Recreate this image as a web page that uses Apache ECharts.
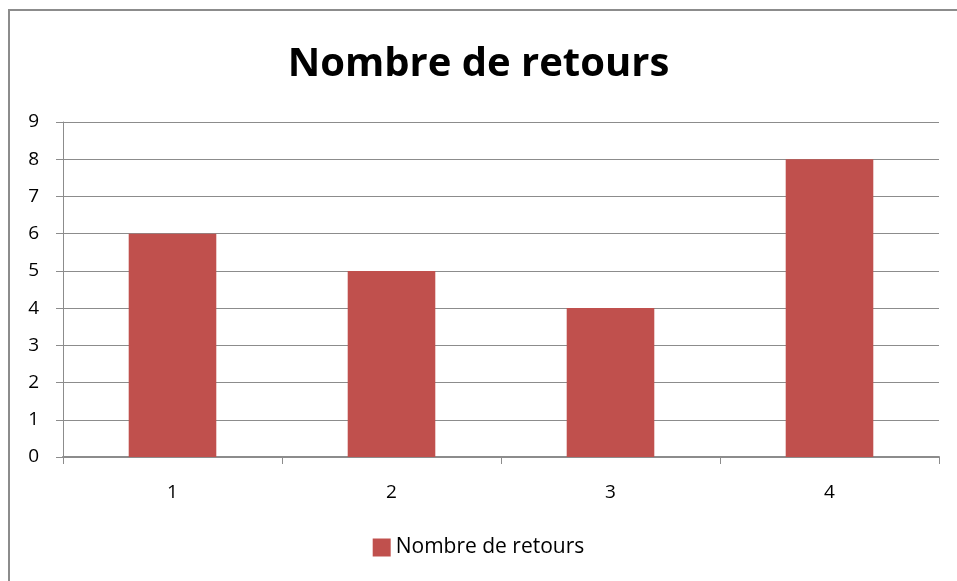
<!DOCTYPE html>
<html>
<head>
<meta charset="utf-8">
<script src="https://cdn.jsdelivr.net/npm/echarts@6/dist/echarts.min.js"></script>
<style>
  html, body { margin: 0; padding: 0; background: #fff; }
  #main { width: 957px; height: 581px; }
</style>
</head>
<body>
<div id="main"></div>
<script>
// données du graphique
var categories = ['1', '2', '3', '4'];
var retours = [6, 5, 4, 8];
var seriesName = 'Nombre de retours';

var chart = echarts.init(document.getElementById('main'));
var font = '"Open Sans", "Liberation Sans", sans-serif';
var grey = '#8c8c8c';

var option = {
  backgroundColor: '#fff',
  animation: false,
  title: {
    text: 'Nombre de retours',
    left: 'center',
    top: 40,
    textStyle: { fontFamily: font, fontSize: 40, fontWeight: 'bold', color: '#000' }
  },
  legend: {
    bottom: 18,
    left: 'center',
    itemWidth: 18,
    itemHeight: 18,
    itemGap: 6,
    icon: 'rect',
    textStyle: { fontFamily: font, fontSize: 21, color: '#000' },
    data: [seriesName]
  },
  grid: { left: 63, right: 18, top: 122, bottom: 124 },
  xAxis: {
    type: 'category',
    data: categories,
    axisLine: { lineStyle: { color: grey, width: 2 } },
    axisTick: { show: true, length: 7, lineStyle: { color: grey } },
    axisLabel: { fontFamily: font, fontSize: 19, color: '#000', margin: 26 }
  },
  yAxis: {
    type: 'value',
    min: 0,
    max: 9,
    interval: 1,
    axisLine: { show: true, lineStyle: { color: grey } },
    axisTick: { show: true, length: 7, lineStyle: { color: grey } },
    axisLabel: { fontFamily: font, fontSize: 19, color: '#000', margin: 24 },
    splitLine: { lineStyle: { color: grey, width: 1 } }
  },
  series: [{
    name: seriesName,
    type: 'bar',
    data: retours,
    barWidth: '40%',
    itemStyle: { color: '#C0504D' }
  }],
  graphic: [{
    type: 'rect',
    shape: { x: 9, y: 10, width: 980, height: 620 },
    style: { fill: 'none', stroke: grey, lineWidth: 2 },
    silent: true
  }]
};
chart.setOption(option);
</script>
</body>
</html>
